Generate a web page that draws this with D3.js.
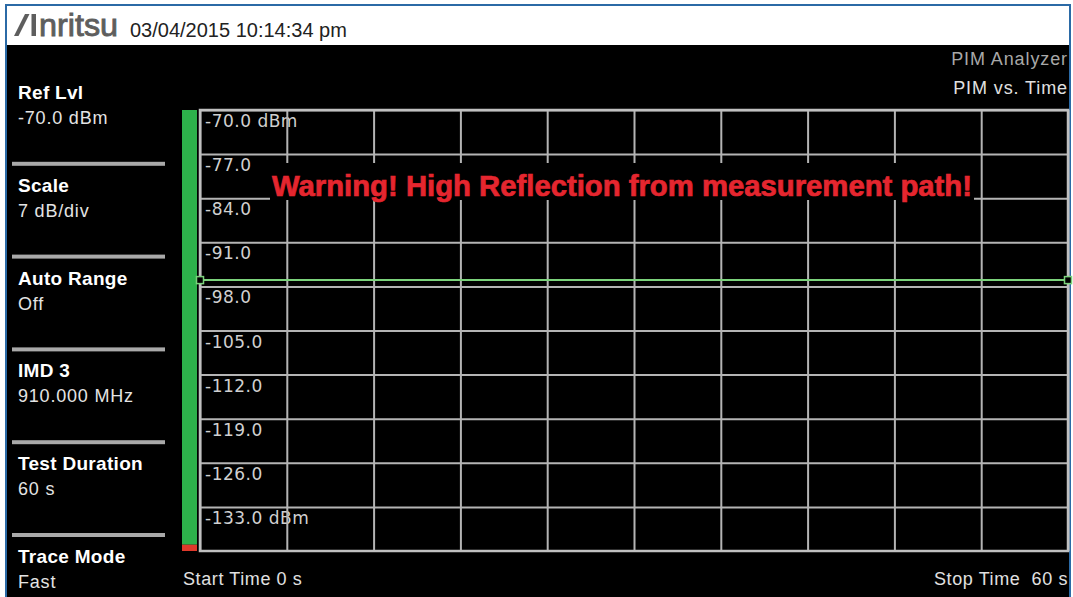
<!DOCTYPE html>
<html>
<head>
<meta charset="utf-8">
<script src="https://cdn.jsdelivr.net/npm/d3@7"></script>
<style>
  html, body { margin: 0; padding: 0; background: #fff; }
  svg { display: block; font-family: "Liberation Sans", Arial, sans-serif; }
</style>
</head>
<body>
<div id="screen"></div>
<script>
// trace data (PIM vs time)
const times = [0, 60];
const pimValues = [-97.0, -97.0];

// y axis labels (7 dB/div, ref -70 dBm)
const yTickValues = [-70, -77, -84, -91, -98, -105, -112, -119, -126, -133];
const yTickLabels = ['-70.0 dBm', '-77.0', '-84.0', '-91.0', '-98.0', '-105.0', '-112.0', '-119.0', '-126.0', '-133.0 dBm'];
const xTickValues = [0, 6, 12, 18, 24, 30, 36, 42, 48, 54, 60];

// left side menu
const menuLabels = ['Ref Lvl', 'Scale', 'Auto Range', 'IMD 3', 'Test Duration', 'Trace Mode'];
const menuValues = ['-70.0 dBm', '7 dB/div', 'Off', '910.000 MHz', '60 s', 'Fast'];

var screen = {
  width: 1073,
  height: 597,
  left: 200,
  right: 1068,
  top: 110,
  bottom: 551,
};

const svg = d3.select('#screen')
              .append('svg')
              .attr('width', screen.width)
              .attr('height', screen.height);

// frame + header + black screen
svg.append('rect').attr('x', 0).attr('y', 0).attr('width', screen.width).attr('height', screen.height).attr('fill', '#fff');
svg.append('rect').attr('x', 7).attr('y', 45).attr('width', 1062).attr('height', 560).attr('fill', '#000');
svg.append('rect')
   .attr('x', 6).attr('y', 5).attr('width', 1064).attr('height', 600)
   .attr('fill', 'none').attr('stroke', '#2b6aa6').attr('stroke-width', 2);

// logo
svg.append('path')
   .attr('d', 'M14,36 L25,14 L29.5,14 L18.5,36 Z M31.5,14 L36,14 L36,36 L31.5,36 Z')
   .attr('fill', '#5e5e5e');
svg.append('text')
   .attr('x', 39).attr('y', 36)
   .attr('font-size', 32)
   .attr('fill', '#5e5e5e')
   .attr('stroke', '#5e5e5e')
   .attr('stroke-width', 0.9)
   .attr('textLength', 79)
   .attr('lengthAdjust', 'spacingAndGlyphs')
   .text('nritsu');
svg.append('text')
   .attr('x', 130).attr('y', 37)
   .attr('font-size', 20)
   .attr('fill', '#222')
   .text('03/04/2015 10:14:34 pm');

// titles top right
svg.append('text').attr('x', 1068).attr('y', 65).attr('text-anchor', 'end')
   .attr('font-size', 18).attr('letter-spacing', 0.9).attr('fill', '#a8a8a8').text('PIM Analyzer');
svg.append('text').attr('x', 1068).attr('y', 94).attr('text-anchor', 'end')
   .attr('font-size', 18).attr('letter-spacing', 0.9).attr('fill', '#e0e0e0').text('PIM vs. Time');

// left menu
const menu = svg.append('g');
menuLabels.forEach((label, i) => {
  const sepY = 71 + i * 92.8;
  if (i > 0) {
    menu.append('rect').attr('x', 12).attr('y', sepY - 2).attr('width', 153).attr('height', 4).attr('fill', '#a9a9a9');
  }
  menu.append('text').attr('x', 18).attr('y', sepY + 28)
      .attr('font-size', 19).attr('font-weight', 'bold').attr('letter-spacing', 0.3).attr('fill', '#fff').text(label);
  menu.append('text').attr('x', 18).attr('y', sepY + 53)
      .attr('font-size', 18).attr('letter-spacing', 0.8).attr('fill', '#e4e4e4').text(menuValues[i]);
});

// scales
const x = d3.scaleLinear().domain([0, 60]).range([screen.left, screen.right]);
const y = d3.scaleLinear().domain([-140, -70]).range([screen.bottom, screen.top]);

// green level bar on the left
svg.append('rect').attr('x', 182).attr('y', y(-70)).attr('width', 15).attr('height', y(-139) - y(-70)).attr('fill', '#2db24b');
svg.append('rect').attr('x', 182).attr('y', y(-139)).attr('width', 15).attr('height', y(-140) - y(-139)).attr('fill', '#e0392b');

// y labels (grid is drawn over them)
svg.append('g')
   .selectAll('text')
   .data(yTickValues)
   .enter()
   .append('text')
   .attr('x', screen.left + 5)
   .attr('y', d => y(d) + 17)
   .style('font-family', '"DejaVu Sans", sans-serif')
   .attr('font-size', 17)
   .attr('letter-spacing', 0.5)
   .attr('fill', '#d0d0d0')
   .text((d, i) => yTickLabels[i]);

// grid
const gridY = svg.append('g')
                 .attr('transform', `translate(${screen.left},0)`)
                 .call(d3.axisLeft(y).tickValues(yTickValues).tickSize(-(screen.right - screen.left)).tickFormat(''));
const gridX = svg.append('g')
                 .attr('transform', `translate(0,${screen.bottom})`)
                 .call(d3.axisBottom(x).tickValues(xTickValues).tickSize(-(screen.bottom - screen.top)).tickFormat(''));
[gridY, gridX].forEach(g => {
  g.select('.domain').remove();
  g.selectAll('line').attr('stroke', '#b4b4b4').attr('stroke-width', 2);
});
svg.append('rect')
   .attr('x', screen.left).attr('y', screen.top)
   .attr('width', screen.right - screen.left).attr('height', screen.bottom - screen.top)
   .attr('fill', 'none').attr('stroke', '#c0c0c0').attr('stroke-width', 2.5);

// warning message
svg.append('rect').attr('x', 270).attr('y', 163).attr('width', 704).attr('height', 37).attr('fill', '#000');
svg.append('text')
   .attr('x', 272).attr('y', 196)
   .attr('font-size', 29)
   .attr('font-weight', 'bold')
   .attr('fill', '#e5262f')
   .attr('stroke', '#e5262f')
   .attr('stroke-width', 0.7)
   .attr('textLength', 700)
   .attr('lengthAdjust', 'spacingAndGlyphs')
   .text('Warning! High Reflection from measurement path!');

// trace
const line = d3.line().x((d, i) => x(times[i])).y(d => y(d));
svg.append('path')
   .datum(pimValues)
   .attr('d', line)
   .attr('fill', 'none')
   .attr('stroke', '#7bd27b')
   .attr('stroke-width', 2);
svg.append('g')
   .selectAll('rect')
   .data(pimValues)
   .enter()
   .append('rect')
   .attr('x', (d, i) => x(times[i]) - 3.5)
   .attr('y', d => y(d) - 3.5)
   .attr('width', 7).attr('height', 7)
   .attr('fill', '#000')
   .attr('stroke', '#7bd27b')
   .attr('stroke-width', 1.5);

// bottom annotations
svg.append('text').attr('x', 183).attr('y', 585).attr('font-size', 18).attr('letter-spacing', 0.6)
   .attr('fill', '#e0e0e0').text('Start Time 0 s');
svg.append('text').attr('x', 1068).attr('y', 585).attr('text-anchor', 'end').attr('font-size', 18).attr('letter-spacing', 0.6)
   .attr('fill', '#e0e0e0').style('white-space', 'pre').text('Stop Time  60 s');
</script>
</body>
</html>
